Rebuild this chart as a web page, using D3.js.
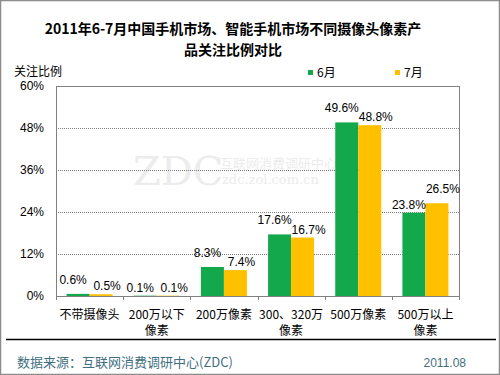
<html>
<head>
<meta charset="utf-8">
<script src="https://cdn.jsdelivr.net/npm/d3@7"></script>
<style>
body { margin: 0; background: #fff; }
text { font-family: "Liberation Sans", Arial, "Noto Sans CJK SC", sans-serif; }
</style>
</head>
<body>
<div id="chart"></div>
<script>
var categories = ["不带摄像头", "200万以下\n像素", "200万像素", "300、320万\n像素", "500万像素", "500万以上\n像素"];
var seriesNames = ["6月", "7月"];
var june = [0.6, 0.1, 8.3, 17.6, 49.6, 23.8];
var july = [0.5, 0.1, 7.4, 16.7, 48.8, 26.5];
var yTicks = [0, 12, 24, 36, 48, 60];
var colors = ["#14a84c", "#ffc000"];

var w = 500, h = 375;
var svg = d3.select("#chart").append("svg")
    .attr("width", w)
    .attr("height", h);

svg.append("rect")
    .attr("x", 0.5).attr("y", 0.5)
    .attr("width", w - 1).attr("height", h - 1)
    .attr("fill", "#fff").attr("stroke", "#8c8c8c").attr("stroke-width", 1.5);

// title
var title = svg.append("text")
    .attr("text-anchor", "middle")
    .style("font-size", "14px").style("font-weight", "bold")
    .style("font-family", "'Noto Sans CJK SC', sans-serif");
title.append("tspan").attr("x", 233).attr("y", 34).text("2011年6-7月中国手机市场、智能手机市场不同摄像头像素产");
title.append("tspan").attr("x", 233).attr("y", 55).text("品关注比例对比");

var m = {left: 56, right: 459, top: 86, bottom: 296};

var x = d3.scaleBand().domain(d3.range(categories.length)).range([m.left, m.right]);
var xs = d3.scaleBand().domain([0, 1]).range([0, 46]);
var y = d3.scaleLinear().domain([0, 60]).range([m.bottom, m.top]);

// watermark
var wm = svg.append("g").attr("fill", "#ececec");
wm.append("text").attr("x", 133).attr("y", 185).style("font-size", "40px")
    .style("font-family", "'DejaVu Serif', serif").style("font-weight", "200").text("ZDC");
wm.append("text").attr("x", 220).attr("y", 168).style("font-size", "13px")
    .style("font-family", "'Noto Sans CJK SC', sans-serif").text("互联网消费调研中心");
wm.append("text").attr("x", 222).attr("y", 184).style("font-size", "13px")
    .style("font-family", "'DejaVu Serif', serif").text("zdc.zol.com.cn");

// grid
svg.append("g").selectAll("line")
    .data(yTicks.filter(function(d) { return d > 0 && d < 60; }))
  .enter().append("line")
    .attr("x1", m.left).attr("x2", m.right)
    .attr("y1", function(d) { return Math.round(y(d)) + 0.5; })
    .attr("y2", function(d) { return Math.round(y(d)) + 0.5; })
    .attr("stroke", "#808080").attr("stroke-dasharray", "1,1");

// plot frame
svg.append("rect")
    .attr("x", m.left + 0.5).attr("y", m.top + 0.5)
    .attr("width", m.right - m.left).attr("height", m.bottom - m.top)
    .attr("fill", "none").attr("stroke", "#808080");

// bars
var series = [june, july];
function barX(i, si) { return x(i) + (x.bandwidth() - 46) / 2 + xs(si); }
series.forEach(function(vals, si) {
  var g = svg.append("g");
  g.selectAll("rect").data(vals).enter().append("rect")
    .attr("x", function(d, i) { return barX(i, si); })
    .attr("y", function(d) { return y(d); })
    .attr("width", xs.bandwidth())
    .attr("height", function(d) { return m.bottom - y(d); })
    .attr("fill", colors[si]);
});

// value labels (nudge apart like excel does)
series.forEach(function(vals, si) {
  var other = series[1 - si];
  svg.append("g").selectAll("text").data(vals).enter().append("text")
    .attr("x", function(d, i) { return barX(i, si) + xs.bandwidth() / 2 + (si === 0 ? -5 : 6); })
    .attr("y", function(d, i) {
      var gap = y(other[i]) - y(d);
      var lift = (gap > 0 && gap < 12) ? 6 : 0;
      return y(d) - 4 - lift;
    })
    .attr("text-anchor", "middle")
    .style("font-size", "12px").attr("fill", "#000")
    .text(function(d) { return d.toFixed(1) + "%"; });
});

// y axis labels
var yAxis = d3.axisLeft(y).tickValues(yTicks).tickSize(0).tickPadding(12)
    .tickFormat(function(d) { return d + "%"; });
var ya = svg.append("g").attr("transform", "translate(" + m.left + ",0)").call(yAxis);
ya.select(".domain").remove();
ya.selectAll("text").style("font-size", "12px").attr("fill", "#000")
    .style("font-family", "'Liberation Sans', Arial, sans-serif");

// x axis
var xAxis = d3.axisBottom(x).tickSize(0).tickFormat("");
var xa = svg.append("g").attr("transform", "translate(0," + m.bottom + ")").call(xAxis);
xa.select(".domain").remove();
xa.selectAll("line").remove();
svg.append("g").selectAll("line")
    .data(d3.range(categories.length + 1))
  .enter().append("line")
    .attr("x1", function(i) { return Math.round(m.left + i * x.step()) + 0.5; })
    .attr("x2", function(i) { return Math.round(m.left + i * x.step()) + 0.5; })
    .attr("y1", m.bottom).attr("y2", m.bottom + 4)
    .attr("stroke", "#808080");
xa.selectAll(".tick").each(function(d) {
  var t = d3.select(this).append("text")
    .attr("text-anchor", "middle").attr("fill", "#000")
    .style("font-size", "12px").style("font-family", "'Noto Sans CJK SC', sans-serif");
  categories[d].split("\n").forEach(function(line, k) {
    t.append("tspan").attr("x", 0).attr("y", 23 + k * 16).text(line);
  });
});

// y title
svg.append("text").attr("x", 14).attr("y", 76)
    .style("font-size", "12px").style("font-family", "'Noto Sans CJK SC', sans-serif")
    .text("关注比例");

// legend
var legX = [308, 395];
seriesNames.forEach(function(n, i) {
  svg.append("rect").attr("x", legX[i]).attr("y", 70).attr("width", 5).attr("height", 5).attr("fill", colors[i]);
  svg.append("text").attr("x", legX[i] + 9).attr("y", 77)
    .style("font-size", "12px").style("font-family", "'Noto Sans CJK SC', sans-serif")
    .text(n);
});

// footer
svg.append("line").attr("x1", 6).attr("x2", 496).attr("y1", 339.5).attr("y2", 339.5)
    .attr("stroke", "#000").attr("stroke-width", 1.5);
svg.append("text").attr("x", 17).attr("y", 367)
    .attr("fill", "#3f6f7f").style("font-size", "13px")
    .style("font-family", "'Noto Sans CJK SC', sans-serif")
    .text("数据来源：互联网消费调研中心(ZDC)");
svg.append("text").attr("x", 466).attr("y", 367).attr("text-anchor", "end")
    .attr("fill", "#3f6f7f").style("font-size", "12px")
    .text("2011.08");
</script>
</body>
</html>
